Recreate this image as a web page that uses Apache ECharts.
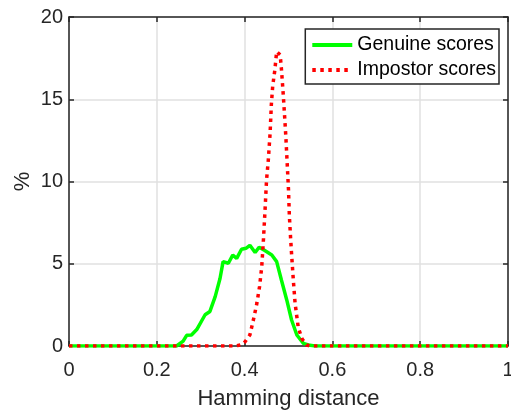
<!DOCTYPE html>
<html>
<head>
<meta charset="utf-8">
<script src="https://cdn.jsdelivr.net/npm/echarts@6/dist/echarts.min.js"></script>
<style>
    html, body {margin: 0; padding: 0; background: #fff;}
    #chart {width: 511px; height: 412px;}
</style>
</head>
<body>
<div id="chart"></div>
<script>
// 数据
var xTickLabels = ['0', '0.2', '0.4', '0.6', '0.8', '1'];
var yTickLabels = ['0', '5', '10', '15', '20'];

var genuineX = [0, 0.245, 0.26, 0.268, 0.279, 0.291, 0.31, 0.321, 0.333, 0.344, 0.351, 0.363, 0.373, 0.382,
    0.393, 0.403, 0.412, 0.424, 0.433, 0.446, 0.462, 0.473, 0.484, 0.496, 0.507, 0.519, 0.534, 0.549, 0.56, 1];
var genuineY = [0, 0, 0.3, 0.65, 0.67, 1.0, 1.9, 2.1, 3.0, 4.1, 5.13, 5.03, 5.53, 5.33,
    5.88, 5.94, 6.12, 5.68, 6.0, 5.8, 5.53, 5.13, 4.0, 2.8, 1.58, 0.67, 0.16, 0.04, 0, 0];

var impostorX = [0, 0.38, 0.395, 0.401, 0.412, 0.42, 0.428, 0.434, 0.439, 0.443, 0.447, 0.45, 0.454, 0.458,
    0.461, 0.464, 0.469, 0.473, 0.477, 0.481, 0.484, 0.488, 0.492, 0.494, 0.497, 0.5, 0.502, 0.505, 0.507,
    0.511, 0.515, 0.522, 0.53, 0.541, 0.55, 1];
var impostorY = [0, 0, 0.1, 0.26, 0.67, 1.58, 2.6, 3.6, 4.8, 6.5, 8.5, 10.1, 11.3, 12.9,
    14.7, 15.8, 16.8, 17.9, 17.9, 17.7, 16.8, 15.3, 13.6, 12.7, 11.1, 9.5, 7.9, 6.45, 5.6,
    4.0, 2.6, 1.17, 0.47, 0.06, 0, 0];

function pairs(xs, ys) {
    return xs.map(function (x, i) { return [x, ys[i]]; });
}

var FONT = 'Liberation Sans';
var AXIS_COLOR = '#262626';

var chart = echarts.init(document.getElementById('chart'));

// 边框轴（上、右）
function boxAxis(pos) {
    return {
        type: 'value', position: pos, min: 0,
        max: pos === 'top' ? 1 : 20,
        interval: pos === 'top' ? 0.2 : 5,
        axisLine: {show: true, onZero: false, lineStyle: {color: AXIS_COLOR, width: 1.5}},
        axisTick: {show: true, inside: true, length: 5, lineStyle: {color: AXIS_COLOR, width: 1.5}},
        axisLabel: {show: false},
        splitLine: {show: false}
    };
}

var option = {
    animation: false,
    backgroundColor: '#fff',
    grid: {left: 69, right: 3, top: 17, bottom: 66, containLabel: false, outerBoundsMode: 'none'},
    legend: {
        orient: 'vertical',
        right: 12,
        top: 29,
        padding: [6, 3, 4, 5],
        itemGap: 5,
        itemWidth: 40,
        itemHeight: 14,
        backgroundColor: '#fff',
        borderColor: AXIS_COLOR,
        borderWidth: 1.5,
        borderRadius: 0,
        itemStyle: {opacity: 0},
        textStyle: {fontFamily: FONT, fontSize: 19.5, color: '#000', lineHeight: 20},
        data: [
            {name: 'Genuine scores', lineStyle: {width: 4}},
            {name: 'Impostor scores', lineStyle: {width: 4}}
        ]
    },
    xAxis: [{
        type: 'value', min: 0, max: 1, interval: 0.2,
        name: 'Hamming distance', nameLocation: 'middle', nameGap: 42, nameMoveOverlap: false,
        nameTextStyle: {fontFamily: FONT, fontSize: 22, color: AXIS_COLOR},
        axisLine: {show: true, onZero: false, lineStyle: {color: AXIS_COLOR, width: 1.5}},
        axisTick: {show: true, inside: true, length: 5, lineStyle: {color: AXIS_COLOR, width: 1.5}},
        axisLabel: {
            fontFamily: FONT, fontSize: 20, color: AXIS_COLOR, margin: 14,
            formatter: function (v) { return xTickLabels[Math.round(v / 0.2)]; }
        },
        splitLine: {show: true, lineStyle: {color: '#e0e0e0', width: 1.5}}
    }, boxAxis('top')],
    yAxis: [{
        type: 'value', min: 0, max: 20, interval: 5,
        name: '%', nameLocation: 'middle', nameGap: 35, nameRotate: 90, nameMoveOverlap: false,
        nameTextStyle: {fontFamily: FONT, fontSize: 22, color: AXIS_COLOR},
        axisLine: {show: true, onZero: false, lineStyle: {color: AXIS_COLOR, width: 1.5}},
        axisTick: {show: true, inside: true, length: 5, lineStyle: {color: AXIS_COLOR, width: 1.5}},
        axisLabel: {
            fontFamily: FONT, fontSize: 20, color: AXIS_COLOR, margin: 6,
            formatter: function (v) { return yTickLabels[Math.round(v / 5)]; }
        },
        splitLine: {show: true, lineStyle: {color: '#e0e0e0', width: 1.5}}
    }, boxAxis('right')],
    series: [{
        name: 'Genuine scores',
        type: 'line',
        symbol: 'none',
        data: pairs(genuineX, genuineY),
        lineStyle: {color: '#00ff00', width: 3.5},
        itemStyle: {color: '#00ff00'}
    }, {
        name: 'Impostor scores',
        type: 'line',
        symbol: 'none',
        data: pairs(impostorX, impostorY),
        lineStyle: {color: '#ff0000', width: 3.5, type: [3.5, 4.5]},
        itemStyle: {color: '#ff0000'}
    }]
};

chart.setOption(option);
</script>
</body>
</html>
